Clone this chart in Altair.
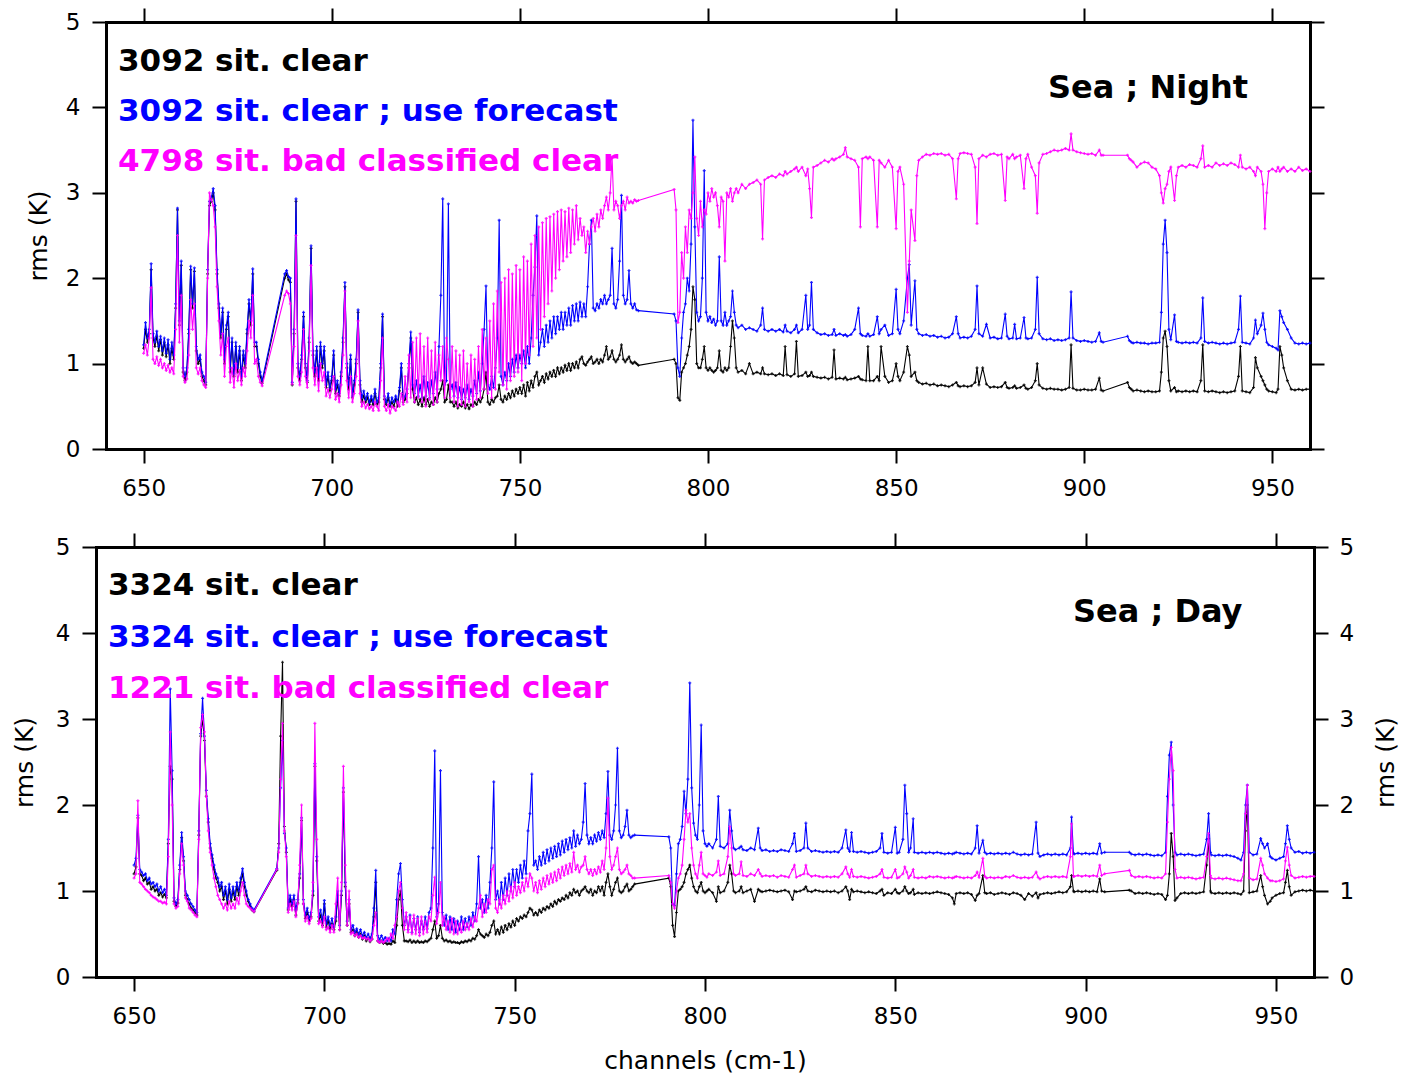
import altair as alt
import pandas as pd

# ---------------- axis / tick values ----------------
X_DOMAIN = [640, 960]
Y_DOMAIN = [0, 5]
X_TICKS = [650, 700, 750, 800, 850, 900, 950]
Y_TICKS = [0, 1, 2, 3, 4, 5]

# ---------------- text ----------------
TOP_LEGEND = ["3092 sit. clear", "3092 sit. clear ; use forecast", "4798 sit. bad classified clear"]
BOT_LEGEND = ["3324 sit. clear", "3324 sit. clear ; use forecast", "1221 sit. bad classified clear"]
TOP_TAG = "Sea ; Night"
BOT_TAG = "Sea ; Day"
Y_TITLE = "rms (K)"
X_TITLE = "channels (cm-1)"
SERIES_COLORS = ["#000000", "#0000ff", "#ff00ff"]

# ---------------- top panel (Sea ; Night) ----------------
TOP_X = [
    650.0,650.5,651.0,651.5,652.0,652.5,653.0,653.5,654.0,654.5,
    655.0,655.5,656.0,656.5,657.0,657.5,658.0,658.5,659.0,659.5,
    660.0,660.5,661.0,661.5,662.0,662.5,663.0,663.5,664.0,664.5,
    665.0,665.5,666.0,666.5,667.0,667.5,668.0,668.5,669.0,669.5,
    670.0,670.5,671.0,671.5,672.0,672.5,673.0,673.5,674.0,674.5,
    675.0,675.5,676.0,676.5,677.0,677.5,678.0,678.5,679.0,679.5,
    680.0,680.5,681.0,681.5,
    687.5,688.0,688.5,689.0,689.5,690.0,690.5,691.0,691.5,692.0,
    692.5,693.0,693.5,694.0,694.5,695.0,695.5,696.0,696.5,697.0,
    697.5,698.0,698.5,699.0,699.5,700.0,700.5,701.0,701.5,702.0,
    702.5,703.0,703.5,704.0,704.5,705.0,705.5,706.0,706.5,707.0,
    707.5,708.0,708.5,709.0,709.5,710.0,710.5,711.0,711.5,712.0,
    712.5,713.0,713.5,714.0,714.5,715.0,715.5,716.0,716.5,717.0,
    717.5,718.0,718.5,719.0,719.5,720.0,720.5,721.0,721.5,
    722.0,722.5,723.0,723.5,724.0,724.5,725.0,725.5,726.0,726.5,
    727.0,727.5,728.0,728.5,729.0,729.5,730.0,730.5,731.0,731.5,
    732.0,732.5,733.0,733.5,734.0,734.5,735.0,735.5,736.0,736.5,
    737.0,737.5,738.0,738.5,739.0,739.5,740.0,740.5,741.0,741.5,
    742.0,742.5,743.0,743.5,744.0,744.5,745.0,745.5,746.0,746.5,
    747.0,747.5,748.0,748.5,749.0,749.5,750.0,750.5,751.0,751.5,
    752.0,752.5,753.0,753.5,754.0,754.5,755.0,755.5,756.0,756.5,
    757.0,757.5,758.0,758.5,759.0,759.5,760.0,760.5,761.0,761.5,
    762.0,762.5,763.0,763.5,764.0,764.5,765.0,765.5,766.0,766.5,
    767.0,767.5,768.0,768.5,769.0,769.5,770.0,770.5,771.0,771.5,
    772.0,772.5,773.0,773.5,774.0,774.5,775.0,775.5,776.0,776.5,
    777.0,777.5,778.0,778.5,779.0,779.5,780.0,780.5,781.0,781.5,
    791.0,791.5,792.0,792.5,793.0,793.5,794.0,794.5,795.0,795.5,
    796.0,796.5,797.0,797.5,798.0,798.5,799.0,799.5,800.0,800.5,
    801.0,801.5,802.0,802.5,803.0,803.5,804.0,804.5,805.0,805.5,
    806.0,806.5,807.0,807.5,808.0,
    809,810,811,812,813,814,814.5,815,816,817,
    818,819,820,820.5,821,822,823,823.5,824,825,
    826,826.5,827,827.5,828,829,830,831,832,833,
    833.5,834,835,836,836.5,837,838,839,840,840.5,
    841,842,842.5,843,844,845,845.5,846,847,848,
    849,850,850.5,851,852,853,853.5,854,855,855.5,
    856,857,858,859,860,861,862,863,864,865,
    866,866.5,867,868,869,870,871,871.5,872,873,
    874,875,876,877,878,879,879.5,880,881,881.5,
    882,883,884,884.5,885,886,887,887.5,888,889,
    890,891,892,893,894,895,896,896.5,897,898,
    899,900,901,902,903,904,904.5,905,
    911.5,912,912.5,913,914,915,916,917,918,919,
    920,920.5,921,921.5,922,922.5,923,924,924.5,925,
    926,927,928,929,930,931,931.5,932,933,934,
    935,936,937,938,939,940,941,941.5,942,943,
    944,945,945.5,946,947,947.5,948,948.5,949,950,
    951,951.5,952,952.5,953,954,955,956,957,958,
    959,960,
]

TOP_CLEAR = [
    1.18,1.40,1.25,1.35,2.10,1.30,1.20,1.32,1.15,1.28,
    1.10,1.25,1.08,1.22,1.00,1.18,1.05,1.65,2.80,1.45,
    2.15,0.90,0.80,0.90,1.35,2.10,1.65,2.08,1.15,1.00,
    1.05,0.85,0.80,0.75,2.05,2.85,2.90,3.00,2.80,2.05,
    1.65,1.30,1.60,1.00,1.40,1.55,0.90,1.25,0.85,1.20,
    0.90,1.15,0.80,1.10,0.95,1.35,1.70,1.45,2.05,1.20,
    1.20,1.00,0.85,0.77,
    2.00,2.05,1.98,1.95,0.75,1.35,2.90,0.95,0.80,1.05,
    1.55,0.95,0.78,1.25,2.35,1.10,0.85,1.15,0.80,1.20,
    0.95,1.15,0.72,0.85,0.68,0.80,1.10,0.65,0.75,0.62,
    0.85,1.25,1.90,0.95,0.70,1.05,0.60,0.75,1.00,1.60,
    0.75,0.55,0.62,0.55,0.60,0.52,0.58,0.52,0.65,0.52,
    0.55,0.95,1.55,0.58,0.52,0.60,0.50,0.55,0.50,0.58,
    0.50,0.68,0.95,0.55,0.58,0.65,0.95,1.30,0.70,
    0.55,0.60,0.52,0.58,0.50,0.60,0.52,0.58,0.50,0.55,
    0.52,0.60,0.55,0.65,0.70,0.80,0.55,0.58,0.75,0.55,
    0.55,0.50,0.55,0.48,0.52,0.50,0.55,0.48,0.52,0.47,
    0.52,0.50,0.55,0.52,0.58,0.55,0.60,0.70,0.90,0.55,
    0.52,0.58,0.55,0.60,0.62,0.75,0.58,0.55,0.62,0.58,
    0.65,0.60,0.68,0.62,0.70,0.65,0.72,0.65,0.75,0.62,
    0.78,0.68,0.80,0.72,0.85,0.90,0.75,0.80,0.85,0.78,
    0.88,0.82,0.90,0.85,0.92,0.85,0.95,0.88,0.95,0.90,
    0.98,0.92,1.00,0.92,1.00,0.95,1.02,0.95,1.05,1.08,
    1.00,0.98,1.02,1.05,1.08,1.00,1.02,1.05,1.00,1.05,
    1.02,1.10,1.20,1.05,1.08,1.15,1.05,1.02,1.05,1.10,
    1.22,1.05,1.02,1.05,1.08,1.02,1.00,1.02,1.00,0.98,
    1.05,1.00,0.60,0.57,0.90,0.95,1.00,1.10,1.20,1.40,
    1.90,1.75,1.00,0.95,0.95,1.05,1.20,0.95,0.92,0.95,
    0.92,0.90,0.92,0.95,1.15,0.92,0.90,0.95,0.92,0.95,
    1.20,1.50,1.30,0.95,0.90,
    0.92,0.88,1.00,0.88,0.90,0.88,0.95,0.88,0.87,0.88,
    0.86,0.88,0.86,1.20,0.87,0.85,0.88,1.26,0.85,0.86,
    0.90,0.85,0.86,0.90,0.85,0.84,0.83,0.84,0.82,0.84,
    1.16,0.82,0.83,0.82,0.84,0.81,0.82,0.83,0.85,0.82,
    0.81,0.80,1.20,0.80,0.80,0.85,0.80,1.20,0.85,0.78,
    0.80,1.00,0.85,0.80,0.90,1.20,1.10,0.85,0.90,0.80,
    0.78,0.76,0.77,0.75,0.76,0.74,0.75,0.74,0.73,0.75,
    0.78,0.74,0.73,0.74,0.73,0.74,0.78,0.95,0.75,0.95,
    0.76,0.72,0.73,0.72,0.73,0.78,0.72,0.71,0.72,0.74,
    0.71,0.72,0.75,0.71,0.70,0.72,0.80,1.00,0.75,0.71,
    0.70,0.71,0.70,0.70,0.69,0.70,0.72,1.22,0.71,0.69,
    0.69,0.70,0.69,0.69,0.70,0.83,0.69,0.68,
    0.78,0.72,0.70,0.68,0.69,0.68,0.67,0.68,0.67,0.67,
    0.68,0.90,1.30,1.38,1.20,0.80,0.68,0.72,0.67,0.68,
    0.67,0.68,0.67,0.68,0.67,0.80,1.22,0.68,0.67,0.68,
    0.67,0.66,0.67,0.66,0.67,0.68,0.85,1.20,0.68,0.67,
    0.66,0.72,1.07,0.95,0.85,0.80,0.75,0.70,0.68,0.67,
    0.66,0.70,1.20,1.10,0.95,0.80,0.70,0.69,0.70,0.69,
    0.70,0.70,
]

TOP_FCST = [
    1.22,1.48,1.30,1.40,2.17,1.35,1.25,1.38,1.20,1.32,
    1.15,1.30,1.12,1.28,1.05,1.25,1.10,1.70,2.82,1.50,
    2.20,0.95,0.85,0.95,1.40,2.14,1.70,2.12,1.20,1.05,
    1.10,0.90,0.85,0.78,2.10,2.90,2.95,3.05,2.85,2.10,
    1.70,1.35,1.65,1.05,1.45,1.60,0.95,1.30,0.88,1.25,
    0.95,1.20,0.85,1.15,1.00,1.40,1.75,1.50,2.11,1.25,
    1.25,1.05,0.90,0.80,
    2.05,2.09,2.02,2.00,0.78,1.40,2.93,1.00,0.85,1.10,
    1.60,1.00,0.80,1.30,2.38,1.15,0.90,1.20,0.85,1.25,
    1.00,1.20,0.75,0.90,0.72,0.85,1.15,0.70,0.80,0.65,
    0.90,1.30,1.95,1.00,0.75,1.10,0.62,0.80,1.05,1.63,
    0.80,0.60,0.68,0.58,0.65,0.55,0.62,0.55,0.70,0.55,
    0.60,1.00,1.58,0.62,0.55,0.65,0.52,0.60,0.55,0.62,
    0.55,0.72,1.00,0.58,0.62,0.70,1.00,1.37,0.75,
    0.65,0.80,0.62,0.75,0.60,0.85,0.62,0.78,0.60,0.80,
    0.65,0.90,0.70,1.20,1.80,2.93,0.75,0.80,2.87,0.70,
    0.75,0.62,0.78,0.60,0.72,0.58,0.70,0.60,0.75,0.58,
    0.70,0.62,0.80,0.65,0.90,0.68,1.00,1.40,1.91,0.75,
    0.70,0.85,0.72,0.95,1.30,2.68,0.85,0.75,0.90,0.80,
    1.00,0.85,1.05,0.90,1.10,0.95,1.10,1.00,1.15,0.95,
    1.20,1.00,1.30,1.80,2.13,2.73,1.10,1.25,1.40,1.20,
    1.45,1.25,1.50,1.30,1.55,1.35,1.55,1.40,1.60,1.40,
    1.60,1.45,1.65,1.45,1.68,1.50,1.70,1.50,1.72,1.55,
    1.70,1.55,1.90,2.40,2.68,1.65,1.62,1.70,1.65,1.75,
    1.70,1.80,1.70,1.75,1.80,2.35,1.70,1.65,1.75,2.20,
    2.97,1.80,1.70,1.75,2.09,1.70,1.65,1.70,1.63,1.62,
    1.58,1.50,0.95,0.85,1.30,1.60,1.70,2.00,1.85,2.40,
    3.85,2.60,1.60,1.50,1.55,2.00,3.26,1.60,1.50,1.55,
    1.48,1.52,1.45,1.50,2.25,1.50,1.45,1.60,1.45,1.50,
    1.55,1.85,1.60,1.45,1.42,
    1.45,1.40,1.42,1.40,1.38,1.45,1.65,1.40,1.38,1.40,
    1.38,1.40,1.37,1.45,1.38,1.36,1.40,1.45,1.36,1.40,
    1.80,1.40,1.45,1.95,1.40,1.36,1.34,1.35,1.33,1.34,
    1.40,1.33,1.35,1.33,1.34,1.32,1.34,1.40,1.65,1.35,
    1.33,1.32,1.35,1.32,1.34,1.55,1.35,1.40,1.45,1.33,
    1.35,1.87,1.40,1.35,1.50,2.00,2.16,1.45,1.97,1.40,
    1.35,1.33,1.34,1.32,1.33,1.31,1.32,1.30,1.31,1.35,
    1.55,1.35,1.30,1.31,1.30,1.32,1.40,1.91,1.35,1.32,
    1.46,1.30,1.31,1.29,1.30,1.58,1.32,1.29,1.30,1.46,
    1.29,1.30,1.54,1.30,1.29,1.30,1.40,2.01,1.35,1.29,
    1.28,1.29,1.27,1.28,1.27,1.28,1.30,1.84,1.30,1.27,
    1.26,1.27,1.26,1.25,1.26,1.36,1.26,1.25,
    1.32,1.27,1.25,1.24,1.25,1.24,1.24,1.23,1.24,1.24,
    1.25,1.60,2.40,2.68,2.30,1.40,1.28,1.57,1.26,1.25,
    1.24,1.25,1.24,1.25,1.24,1.30,1.77,1.26,1.24,1.25,
    1.24,1.23,1.24,1.23,1.24,1.25,1.40,1.79,1.25,1.24,
    1.23,1.30,1.51,1.35,1.45,1.59,1.40,1.25,1.22,1.20,
    1.18,1.16,1.62,1.55,1.48,1.40,1.30,1.24,1.23,1.24,
    1.23,1.24,
]

TOP_BAD = [
    1.12,1.22,1.10,1.30,1.89,1.05,1.00,1.08,0.98,1.05,
    0.95,1.00,0.92,0.98,0.90,0.95,0.88,1.40,2.50,1.25,
    1.80,0.85,0.78,0.82,1.10,1.75,1.40,1.70,0.95,0.88,
    0.95,0.80,0.75,0.72,2.00,3.00,2.92,2.85,2.60,1.90,
    1.50,1.10,1.35,0.85,1.20,1.30,0.78,0.95,0.72,1.00,
    0.80,0.92,0.75,0.95,0.85,1.15,1.50,1.30,1.80,1.00,
    1.05,0.85,0.78,0.74,
    1.80,1.85,1.82,1.70,0.76,1.20,2.50,0.85,0.75,0.90,
    1.40,0.85,0.72,1.15,2.15,0.95,0.75,0.95,0.68,1.00,
    0.80,0.90,0.62,0.70,0.60,0.70,0.85,0.58,0.65,0.55,
    0.75,1.10,1.85,0.80,0.60,0.85,0.55,0.65,0.85,1.50,
    0.65,0.50,0.55,0.48,0.52,0.47,0.50,0.45,0.55,0.50,
    0.45,0.80,1.30,0.50,0.45,0.52,0.42,0.50,0.48,0.45,
    0.55,0.50,0.65,0.52,0.85,0.55,1.10,0.60,1.25,
    0.55,1.30,0.60,1.35,0.55,1.20,0.50,1.30,0.58,1.15,
    0.52,1.25,0.55,1.10,0.80,1.20,0.60,1.30,1.05,0.60,
    1.20,0.55,1.15,0.50,1.10,0.52,1.15,0.50,1.00,0.55,
    1.10,0.50,1.05,0.58,1.20,0.60,1.40,0.70,1.30,0.65,
    1.50,0.60,1.70,0.70,1.85,0.90,1.95,0.75,2.00,0.70,
    2.10,0.80,2.05,0.85,2.15,0.90,2.10,0.80,2.25,1.00,
    2.20,1.10,2.40,1.20,2.50,1.30,2.60,1.40,2.65,1.55,
    2.70,1.70,2.72,1.85,2.75,2.00,2.78,2.10,2.80,2.20,
    2.78,2.25,2.82,2.30,2.80,2.40,2.85,2.45,2.70,2.50,
    2.60,2.30,2.55,2.40,2.60,2.70,2.55,2.75,2.60,2.80,
    2.70,2.85,2.95,2.80,3.00,3.42,2.80,2.90,2.85,2.70,
    2.85,2.90,2.80,2.95,2.88,2.90,2.88,2.92,2.90,2.91,
    3.04,2.80,1.48,1.60,2.30,2.00,2.60,2.30,2.80,2.70,
    3.00,3.42,2.70,2.50,2.90,2.60,2.80,2.75,3.00,2.90,
    3.05,2.95,3.00,2.85,2.60,2.95,2.90,2.20,3.00,2.95,
    3.05,2.90,3.00,3.05,3.00,
    3.10,3.05,3.10,3.12,3.15,3.10,2.46,3.15,3.18,3.20,
    3.18,3.22,3.20,3.25,3.22,3.25,3.28,3.30,3.25,3.30,
    3.20,3.28,3.05,2.71,3.30,3.32,3.35,3.38,3.36,3.40,
    3.38,3.40,3.42,3.45,3.53,3.42,3.40,3.38,3.30,2.60,
    3.40,3.42,3.40,3.42,3.38,2.60,3.38,3.35,3.30,3.38,
    3.30,2.58,3.25,3.30,3.10,1.60,2.20,2.80,2.44,3.20,
    3.38,3.42,3.45,3.44,3.46,3.45,3.46,3.44,3.45,3.40,
    2.93,3.40,3.46,3.47,3.46,3.45,3.30,2.64,3.40,3.44,
    3.42,3.45,3.46,3.44,3.45,2.91,3.42,3.40,3.45,3.40,
    3.42,3.44,3.05,3.40,3.45,3.30,3.20,2.76,3.35,3.45,
    3.46,3.48,3.50,3.49,3.50,3.52,3.50,3.69,3.50,3.48,
    3.47,3.46,3.45,3.46,3.44,3.50,3.44,3.44,
    3.44,3.40,3.38,3.36,3.30,3.34,3.36,3.35,3.30,3.28,
    3.20,3.00,2.88,3.05,3.10,3.25,3.30,2.91,3.20,3.30,
    3.32,3.30,3.33,3.32,3.30,3.40,3.55,3.30,3.32,3.30,
    3.35,3.32,3.34,3.32,3.35,3.33,3.30,3.44,3.30,3.28,
    3.30,3.25,3.20,3.30,3.25,3.10,2.58,3.00,3.25,3.28,
    3.25,3.30,3.25,3.28,3.30,3.25,3.28,3.25,3.30,3.26,
    3.28,3.25,
]

# ---------------- bottom panel (Sea ; Day) ----------------
BOT_X = [
    650.0,650.5,651.0,651.5,652.0,652.5,653.0,653.5,654.0,654.5,
    655.0,655.5,656.0,656.5,657.0,657.5,658.0,658.5,659.0,659.5,
    660.0,660.5,661.0,661.5,662.0,662.5,663.0,663.5,664.0,664.5,
    665.0,665.5,666.0,666.5,667.0,667.5,668.0,668.5,669.0,669.5,
    670.0,670.5,671.0,671.5,672.0,672.5,673.0,673.5,674.0,674.5,
    675.0,675.5,676.0,676.5,677.0,677.5,678.0,678.5,679.0,679.5,
    680.0,680.5,681.0,681.5,
    687.5,688.0,688.5,689.0,689.5,690.0,690.5,691.0,691.5,692.0,
    692.5,693.0,693.5,694.0,694.5,695.0,695.5,696.0,696.5,697.0,
    697.5,698.0,698.5,699.0,699.5,700.0,700.5,701.0,701.5,702.0,
    702.5,703.0,703.5,704.0,704.5,705.0,705.5,706.0,706.5,707.0,
    707.5,708.0,708.5,709.0,709.5,710.0,710.5,711.0,711.5,712.0,
    712.5,713.0,713.5,714.0,714.5,715.0,715.5,716.0,716.5,717.0,
    717.5,718.0,718.5,719.0,719.5,720.0,720.5,721.0,721.5,
    722.0,722.5,723.0,723.5,724.0,724.5,725.0,725.5,726.0,726.5,
    727.0,727.5,728.0,728.5,729.0,729.5,730.0,730.5,731.0,731.5,
    732.0,732.5,733.0,733.5,734.0,734.5,735.0,735.5,736.0,736.5,
    737.0,737.5,738.0,738.5,739.0,739.5,740.0,740.5,741.0,741.5,
    742.0,742.5,743.0,743.5,744.0,744.5,745.0,745.5,746.0,746.5,
    747.0,747.5,748.0,748.5,749.0,749.5,750.0,750.5,751.0,751.5,
    752.0,752.5,753.0,753.5,754.0,754.5,755.0,755.5,756.0,756.5,
    757.0,757.5,758.0,758.5,759.0,759.5,760.0,760.5,761.0,761.5,
    762.0,762.5,763.0,763.5,764.0,764.5,765.0,765.5,766.0,766.5,
    767.0,767.5,768.0,768.5,769.0,769.5,770.0,770.5,771.0,771.5,
    772.0,772.5,773.0,773.5,774.0,774.5,775.0,775.5,776.0,776.5,
    777.0,777.5,778.0,778.5,779.0,779.5,780.0,780.5,781.0,781.5,
    790.5,791,791.5,792,792.5,793,793.5,794,794.5,795,
    795.5,796,796.5,797,797.5,798,798.5,799,799.5,800,
    800.5,801,802,803,803.5,804,805,806,806.5,807,
    807.5,808,
    809,809.5,810,811,812,813,814,814.5,815,816,
    817,818,819,820,821,822,823,823.5,824,825,
    826,826.5,827,828,829,830,831,832,833,834,
    835,836,837,837.5,838,838.5,839,840,841,842,
    843,844,845,846,846.5,847,848,849,850,850.5,
    851,852,852.5,853,853.5,854,854.7,855,856,857,
    858,859,860,861,862,863,864,865,865.5,866,
    867,868,869,870,871,871.5,872,873,873.5,874,
    875,876,877,878,879,880,881,882,883,884,
    885,886,887,887.5,888,889,890,891,892,893,
    894,895,896,896.3,896.8,897,898,899,900,901,
    902,903,903.7,904.2,905,
    911.5,912,913,914,915,916,917,918,919,920,
    921,921.5,922,922.5,923,923.5,924,925,926,927,
    928,929,930,931,931.8,932.3,932.8,933,934,935,
    936,937,938,939,940,940.8,941.5,942,942.5,943,
    944,945,946,946.5,947,947.8,948.5,949,950,951,
    952,952.5,953,953.5,954,955,956,957,958,959,
    960,
]

BOT_CLEAR = [
    1.20,1.28,1.85,1.20,1.18,1.12,1.15,1.08,1.10,1.02,
    1.05,1.00,1.02,0.95,0.98,0.93,0.96,0.92,1.55,2.45,
    2.30,0.88,0.82,0.86,1.25,1.62,1.35,0.95,0.90,0.85,
    0.80,0.78,0.75,0.72,1.65,2.80,3.00,2.75,2.10,1.80,
    1.50,1.38,1.25,1.15,1.10,1.00,1.05,0.90,1.00,0.85,
    1.02,0.88,1.00,0.90,1.05,0.95,1.10,1.20,1.05,0.95,
    0.88,0.82,0.78,0.76,
    1.24,1.55,2.80,3.66,1.75,1.45,0.78,0.90,0.82,0.90,
    0.72,0.86,1.15,1.82,0.85,0.68,0.75,0.65,0.70,0.95,
    2.45,1.35,0.65,0.72,0.60,0.85,0.58,0.65,0.56,0.62,
    0.55,0.65,0.95,0.55,0.95,2.15,1.05,0.60,0.85,0.52,
    0.55,0.48,0.52,0.46,0.50,0.44,0.48,0.42,0.45,0.41,
    0.44,0.70,1.10,0.42,0.40,0.42,0.39,0.40,0.38,0.39,
    0.38,0.42,0.40,0.60,0.90,1.00,0.60,0.42,0.42,
    0.41,0.43,0.40,0.42,0.40,0.42,0.40,0.41,0.40,0.42,
    0.41,0.43,0.45,0.55,0.65,0.45,0.48,0.60,0.45,0.42,
    0.43,0.41,0.42,0.40,0.41,0.40,0.40,0.39,0.41,0.40,
    0.42,0.41,0.43,0.42,0.45,0.44,0.48,0.55,0.50,0.48,
    0.46,0.50,0.48,0.52,0.60,0.65,0.50,0.55,0.50,0.58,
    0.52,0.60,0.55,0.62,0.58,0.65,0.60,0.68,0.65,0.70,
    0.68,0.72,0.70,0.75,0.80,0.78,0.72,0.75,0.72,0.78,
    0.75,0.80,0.78,0.82,0.80,0.85,0.82,0.88,0.85,0.90,
    0.88,0.92,0.90,0.95,0.92,0.98,0.95,1.02,0.98,1.00,
    0.95,1.00,1.02,1.05,1.00,0.98,1.02,0.95,1.00,0.98,
    1.05,1.00,1.05,0.95,1.10,1.20,1.05,0.95,1.02,1.10,
    1.15,1.00,0.98,1.00,1.05,1.08,1.00,1.02,1.05,1.08,
    1.15,1.05,0.60,0.47,0.75,1.00,1.02,1.05,1.10,1.20,
    1.25,1.30,1.15,1.05,1.00,0.98,1.05,1.10,1.00,0.98,
    1.00,1.02,0.98,0.88,1.05,0.98,1.00,1.10,1.30,1.20,
    1.00,0.98,
    1.00,1.05,0.98,1.00,1.02,0.88,1.02,1.00,0.99,1.00,
    1.01,1.00,0.99,1.00,1.01,0.99,0.90,1.00,0.99,1.00,
    1.02,1.05,1.00,0.99,1.01,1.00,0.99,1.00,0.99,1.00,
    0.98,1.00,1.05,1.00,0.90,1.02,0.99,1.00,0.99,0.98,
    0.99,0.98,0.97,1.00,1.02,0.95,0.98,0.97,1.02,0.98,
    0.97,1.00,1.05,1.00,0.97,0.98,1.02,0.96,0.98,0.97,
    0.98,0.97,0.98,0.99,0.98,0.97,0.96,0.92,0.85,0.97,
    0.98,0.97,0.98,0.96,0.89,0.95,0.97,1.18,0.98,0.97,
    0.98,0.96,0.97,0.98,0.97,0.96,0.98,0.97,0.95,0.90,
    0.97,0.94,0.98,0.92,0.96,0.97,0.98,0.97,0.98,0.99,
    0.98,0.99,1.05,1.18,1.00,0.99,1.00,0.99,1.00,0.99,
    1.00,0.99,1.14,1.00,0.99,
    1.01,1.00,0.97,0.98,0.97,0.98,0.97,0.96,0.97,0.96,
    0.90,0.95,1.20,1.67,1.40,0.89,0.92,0.97,0.98,0.97,
    0.98,0.97,0.98,0.99,1.30,1.61,1.00,0.98,0.97,0.98,
    0.97,0.98,0.97,0.98,0.97,0.96,1.00,1.70,2.00,0.98,
    0.99,1.00,1.18,1.05,0.95,0.85,0.88,0.92,0.95,0.97,
    0.98,1.10,1.24,1.05,0.95,0.99,1.00,1.01,1.00,1.01,
    1.00,
]

BOT_FCST = [
    1.30,1.38,1.88,1.25,1.22,1.18,1.20,1.12,1.15,1.08,
    1.10,1.05,1.08,1.00,1.05,0.98,1.02,0.95,1.60,3.35,
    2.40,0.92,0.85,0.90,1.30,1.68,1.40,1.00,0.95,0.90,
    0.85,0.82,0.78,0.75,1.70,2.83,3.24,2.80,2.17,1.84,
    1.55,1.42,1.30,1.20,1.15,1.05,1.10,0.95,1.05,0.90,
    1.08,0.92,1.05,0.95,1.10,1.00,1.15,1.26,1.10,1.00,
    0.90,0.85,0.80,0.78,
    1.26,1.50,2.20,2.75,1.67,1.50,0.80,0.95,0.85,0.95,
    0.78,0.90,1.20,1.85,0.90,0.72,0.80,0.68,0.75,1.00,
    2.48,1.40,0.70,0.78,0.65,0.89,0.62,0.70,0.60,0.68,
    0.58,0.70,1.00,0.60,1.00,2.20,1.10,0.65,0.90,0.55,
    0.60,0.52,0.56,0.50,0.55,0.48,0.52,0.46,0.50,0.45,
    0.50,0.80,1.24,0.48,0.44,0.48,0.43,0.46,0.42,0.45,
    0.42,0.55,0.50,0.90,1.20,1.32,0.90,0.60,0.70,
    0.55,0.72,0.52,0.68,0.55,0.70,0.52,0.65,0.55,0.70,
    0.56,0.75,0.80,1.50,2.63,0.70,0.85,2.40,0.75,0.60,
    0.72,0.55,0.70,0.55,0.68,0.52,0.65,0.55,0.70,0.55,
    0.68,0.58,0.70,0.60,0.75,0.65,0.85,1.40,0.80,0.90,
    0.75,0.95,0.80,1.10,1.50,2.27,0.90,1.00,0.85,1.10,
    0.90,1.15,0.95,1.20,1.00,1.25,1.05,1.25,1.10,1.30,
    1.15,1.35,1.20,1.70,1.90,2.36,1.30,1.35,1.25,1.40,
    1.30,1.45,1.32,1.48,1.35,1.50,1.38,1.52,1.40,1.55,
    1.42,1.58,1.45,1.60,1.48,1.62,1.50,1.70,1.52,1.65,
    1.55,1.60,1.80,2.25,1.65,1.55,1.62,1.55,1.65,1.58,
    1.68,1.60,1.70,1.62,1.90,2.39,1.65,1.60,1.70,2.00,
    2.66,1.70,1.62,1.65,1.75,1.94,1.65,1.62,1.64,1.65,
    1.63,1.50,0.85,0.83,1.20,1.55,1.60,1.75,2.16,1.90,
    2.30,3.42,2.20,1.79,1.65,1.60,2.00,2.93,1.70,1.55,
    1.52,1.55,1.50,1.60,2.10,1.52,1.50,1.55,1.94,1.70,
    1.50,1.48,
    1.50,1.52,1.48,1.47,1.50,1.48,1.73,1.50,1.47,1.48,
    1.46,1.47,1.46,1.48,1.47,1.46,1.55,1.67,1.46,1.47,
    1.50,1.79,1.50,1.46,1.47,1.46,1.45,1.46,1.45,1.46,
    1.45,1.50,1.71,1.50,1.46,1.68,1.46,1.45,1.46,1.45,
    1.44,1.45,1.46,1.50,1.67,1.45,1.44,1.45,1.74,1.44,
    1.45,1.60,2.23,1.90,1.45,1.50,1.84,1.45,1.44,1.45,
    1.44,1.45,1.44,1.45,1.44,1.43,1.44,1.43,1.44,1.45,
    1.44,1.43,1.44,1.43,1.50,1.76,1.44,1.59,1.45,1.43,
    1.44,1.43,1.44,1.43,1.44,1.43,1.45,1.43,1.42,1.43,
    1.42,1.43,1.80,1.44,1.40,1.42,1.43,1.42,1.43,1.42,
    1.43,1.42,1.50,1.86,1.44,1.43,1.44,1.43,1.44,1.43,
    1.44,1.43,1.55,1.44,1.45,
    1.45,1.43,1.42,1.43,1.42,1.43,1.42,1.41,1.42,1.41,
    1.45,2.10,2.58,2.73,2.00,1.45,1.42,1.43,1.42,1.43,
    1.42,1.41,1.42,1.43,1.60,1.90,1.45,1.42,1.41,1.42,
    1.41,1.42,1.41,1.40,1.38,1.36,1.45,2.00,2.23,1.45,
    1.42,1.43,1.61,1.55,1.50,1.55,1.40,1.38,1.36,1.38,
    1.40,1.55,1.76,1.60,1.50,1.45,1.46,1.44,1.45,1.44,
    1.45,
]

BOT_BAD = [
    1.15,1.20,2.05,1.10,1.08,1.05,1.02,1.00,0.98,0.95,
    0.93,0.92,0.90,0.88,0.88,0.86,0.87,0.85,1.40,2.85,
    2.00,0.85,0.80,0.82,1.20,1.55,1.30,0.92,0.88,0.80,
    0.78,0.75,0.72,0.70,1.60,2.90,3.05,2.85,2.10,1.70,
    1.45,1.30,1.15,1.05,0.95,0.90,0.85,0.80,0.85,0.78,
    0.88,0.80,0.85,0.80,0.92,0.85,1.00,1.10,0.95,0.85,
    0.82,0.80,0.78,0.76,
    1.25,1.45,2.30,2.95,1.70,1.40,0.75,0.85,0.78,0.88,
    0.70,0.85,1.30,2.00,0.85,0.65,0.70,0.62,0.68,1.10,
    2.95,1.60,0.62,0.65,0.58,0.70,0.55,0.58,0.52,0.60,
    0.52,0.85,1.15,0.55,1.10,2.45,1.30,0.60,1.00,0.50,
    0.52,0.48,0.50,0.46,0.48,0.45,0.46,0.44,0.45,0.42,
    0.44,0.60,0.75,0.42,0.40,0.42,0.40,0.42,0.45,0.42,
    0.50,0.45,0.60,0.70,1.00,1.10,0.80,0.55,0.75,
    0.52,0.70,0.50,0.72,0.50,0.68,0.48,0.70,0.50,0.65,
    0.52,0.70,0.65,0.95,1.16,0.62,0.75,1.10,0.60,0.70,
    0.55,0.65,0.52,0.68,0.50,0.65,0.50,0.62,0.52,0.65,
    0.55,0.62,0.55,0.68,0.58,0.70,0.65,0.80,0.95,0.70,
    0.85,0.75,0.90,0.85,1.25,1.30,0.80,0.75,0.90,0.80,
    0.95,0.85,1.00,0.88,1.05,0.92,1.10,0.95,1.05,0.98,
    1.10,1.00,1.15,1.05,1.20,1.15,1.00,1.10,0.98,1.12,
    1.02,1.15,1.05,1.18,1.08,1.20,1.10,1.22,1.12,1.25,
    1.15,1.28,1.18,1.30,1.20,1.32,1.22,1.45,1.25,1.30,
    1.22,1.28,1.30,1.40,1.25,1.20,1.25,1.18,1.25,1.20,
    1.28,1.22,1.35,1.25,1.50,2.08,1.40,1.25,1.30,1.40,
    1.50,1.25,1.20,1.22,1.25,1.30,1.20,1.18,1.15,1.15,
    1.18,1.10,0.85,0.80,1.00,1.15,1.20,1.30,1.60,1.94,
    1.80,1.90,1.50,1.30,1.20,1.15,1.30,1.45,1.20,1.18,
    1.16,1.20,1.18,1.22,1.35,1.18,1.20,1.40,1.75,1.50,
    1.20,1.18,
    1.20,1.34,1.18,1.17,1.20,1.18,1.25,1.20,1.17,1.18,
    1.17,1.18,1.16,1.18,1.17,1.16,1.25,1.30,1.16,1.18,
    1.20,1.30,1.20,1.17,1.18,1.17,1.16,1.17,1.16,1.17,
    1.16,1.20,1.28,1.20,1.16,1.25,1.17,1.16,1.17,1.16,
    1.15,1.16,1.17,1.20,1.25,1.16,1.15,1.16,1.25,1.15,
    1.16,1.20,1.28,1.22,1.15,1.18,1.25,1.16,1.15,1.16,
    1.15,1.17,1.16,1.17,1.16,1.15,1.16,1.15,1.16,1.17,
    1.16,1.15,1.16,1.15,1.18,1.22,1.16,1.38,1.17,1.15,
    1.16,1.15,1.16,1.15,1.17,1.16,1.18,1.16,1.15,1.16,
    1.15,1.16,1.22,1.16,1.14,1.16,1.17,1.16,1.17,1.16,
    1.17,1.16,1.40,1.78,1.17,1.17,1.18,1.17,1.18,1.17,
    1.18,1.17,1.30,1.18,1.20,
    1.24,1.18,1.16,1.17,1.16,1.17,1.16,1.15,1.16,1.15,
    1.20,1.80,2.30,2.67,2.40,1.25,1.15,1.16,1.15,1.16,
    1.15,1.14,1.15,1.16,1.40,1.67,1.18,1.15,1.14,1.15,
    1.14,1.15,1.14,1.13,1.12,1.12,1.20,1.90,2.23,1.15,
    1.13,1.14,1.38,1.30,1.20,1.15,1.12,1.12,1.11,1.12,
    1.14,1.35,1.51,1.30,1.18,1.15,1.16,1.17,1.16,1.17,
    1.17,
]

FONT = "DejaVu Sans"


def check(name, x, *series):
    for s in series:
        if len(s) != len(x):
            raise ValueError(f"{name}: length mismatch {len(x)} vs {len(s)}")


check("top", TOP_X, TOP_CLEAR, TOP_FCST, TOP_BAD)
check("bottom", BOT_X, BOT_CLEAR, BOT_FCST, BOT_BAD)


def axis(**kw):
    base = dict(
        domainColor="black", domainWidth=3, domainCap="square",
        tickColor="black", tickWidth=2, tickSize=14,
        labelFont=FONT, labelFontSize=23, labelColor="black", labelPadding=13,
        titleFont=FONT, titleFontSize=25, titleFontWeight="normal", titleColor="black",
        grid=False,
    )
    base.update(kw)
    return alt.Axis(**base)


def panel(xv, clear, fcst, bad, width, height, x_range, left_offset, left_title_pad,
          legend, legend_x, legend_ys, tag, tag_x, tag_y, x_title, right_labels):
    df = pd.DataFrame({"wn": xv, "clear": clear, "fcst": fcst, "bad": bad})
    xscale_kw = dict(domain=X_DOMAIN, nice=False, zero=False)
    if x_range is not None:
        xscale_kw["range"] = x_range
    xs = alt.Scale(**xscale_kw)
    ys = alt.Scale(domain=Y_DOMAIN, nice=False, zero=True)

    left_kw = dict(orient="left", values=Y_TICKS, format="d", title=Y_TITLE,
                   titlePadding=left_title_pad, labelPadding=12)
    if left_offset:
        left_kw["offset"] = left_offset
    if x_title:
        bottom_axis = axis(orient="bottom", values=X_TICKS, format="d", title=x_title,
                           titlePadding=20, labelPadding=14)
    else:
        bottom_axis = axis(orient="bottom", values=X_TICKS, format="d", title=None,
                           labelPadding=14)
    if right_labels:
        right_axis = axis(orient="right", values=Y_TICKS, format="d", title=Y_TITLE,
                          titleAngle=270, titleBaseline="top", titlePadding=20,
                          labelPadding=11)
    else:
        right_axis = axis(orient="right", values=Y_TICKS, labels=False, title=None)
    top_axis = axis(orient="top", values=X_TICKS, labels=False, title=None)

    base = alt.Chart(df)
    layers = []
    # black series carries bottom x axis and left y axis
    layers.append(base.mark_line(color=SERIES_COLORS[0], strokeWidth=1.1).encode(
        x=alt.X("wn:Q", scale=xs, axis=bottom_axis),
        y=alt.Y("clear:Q", scale=ys, axis=axis(**left_kw)),
    ))
    layers.append(base.mark_point(shape="cross", size=9, filled=True, color=SERIES_COLORS[0], opacity=0.8).encode(
        x=alt.X("wn:Q", scale=xs, axis=None),
        y=alt.Y("clear:Q", scale=ys, axis=None),
    ))
    # blue series carries top x axis and right y axis
    layers.append(base.mark_line(color=SERIES_COLORS[1], strokeWidth=1.1).encode(
        x=alt.X("wn:Q", scale=xs, axis=top_axis),
        y=alt.Y("fcst:Q", scale=ys, axis=right_axis),
    ))
    layers.append(base.mark_point(shape="cross", size=9, filled=True, color=SERIES_COLORS[1], opacity=0.8).encode(
        x=alt.X("wn:Q", scale=xs, axis=None),
        y=alt.Y("fcst:Q", scale=ys, axis=None),
    ))
    layers.append(base.mark_line(color=SERIES_COLORS[2], strokeWidth=1.1).encode(
        x=alt.X("wn:Q", scale=xs, axis=None),
        y=alt.Y("bad:Q", scale=ys, axis=None),
    ))
    layers.append(base.mark_point(shape="cross", size=9, filled=True, color=SERIES_COLORS[2], opacity=0.8).encode(
        x=alt.X("wn:Q", scale=xs, axis=None),
        y=alt.Y("bad:Q", scale=ys, axis=None),
    ))
    for txt, col, yy in zip(legend, SERIES_COLORS, legend_ys):
        layers.append(alt.Chart(pd.DataFrame({"label": [txt]})).mark_text(
            align="left", baseline="alphabetic", font=FONT, fontSize=31,
            fontWeight="bold", color=col,
        ).encode(x=alt.value(legend_x), y=alt.value(yy), text="label:N"))
    layers.append(alt.Chart(pd.DataFrame({"label": [tag]})).mark_text(
        align="left", baseline="alphabetic", font=FONT, fontSize=32,
        fontWeight="bold", color="black",
    ).encode(x=alt.value(tag_x), y=alt.value(tag_y), text="label:N"))

    return alt.layer(*layers).resolve_axis(x="independent", y="independent").properties(
        width=width, height=height)


top = panel(TOP_X, TOP_CLEAR, TOP_FCST, TOP_BAD, width=1214, height=427,
            x_range=[10, 1214], left_offset=-10, left_title_pad=14,
            legend=TOP_LEGEND, legend_x=22, legend_ys=[49, 99, 149],
            tag=TOP_TAG, tag_x=952, tag_y=76, x_title=None, right_labels=False)

bottom = panel(BOT_X, BOT_CLEAR, BOT_FCST, BOT_BAD, width=1218, height=430,
               x_range=None, left_offset=0, left_title_pad=18,
               legend=BOT_LEGEND, legend_x=12, legend_ys=[48, 100, 151],
               tag=BOT_TAG, tag_x=977, tag_y=75, x_title=X_TITLE, right_labels=True)

chart = alt.vconcat(top, bottom, spacing=32).configure_view(stroke=None).properties(
    padding={"left": 12, "top": 7, "right": 5, "bottom": 5},
    background="white",
)

chart.save("out.html", embed_options={"renderer": "svg", "actions": False})
